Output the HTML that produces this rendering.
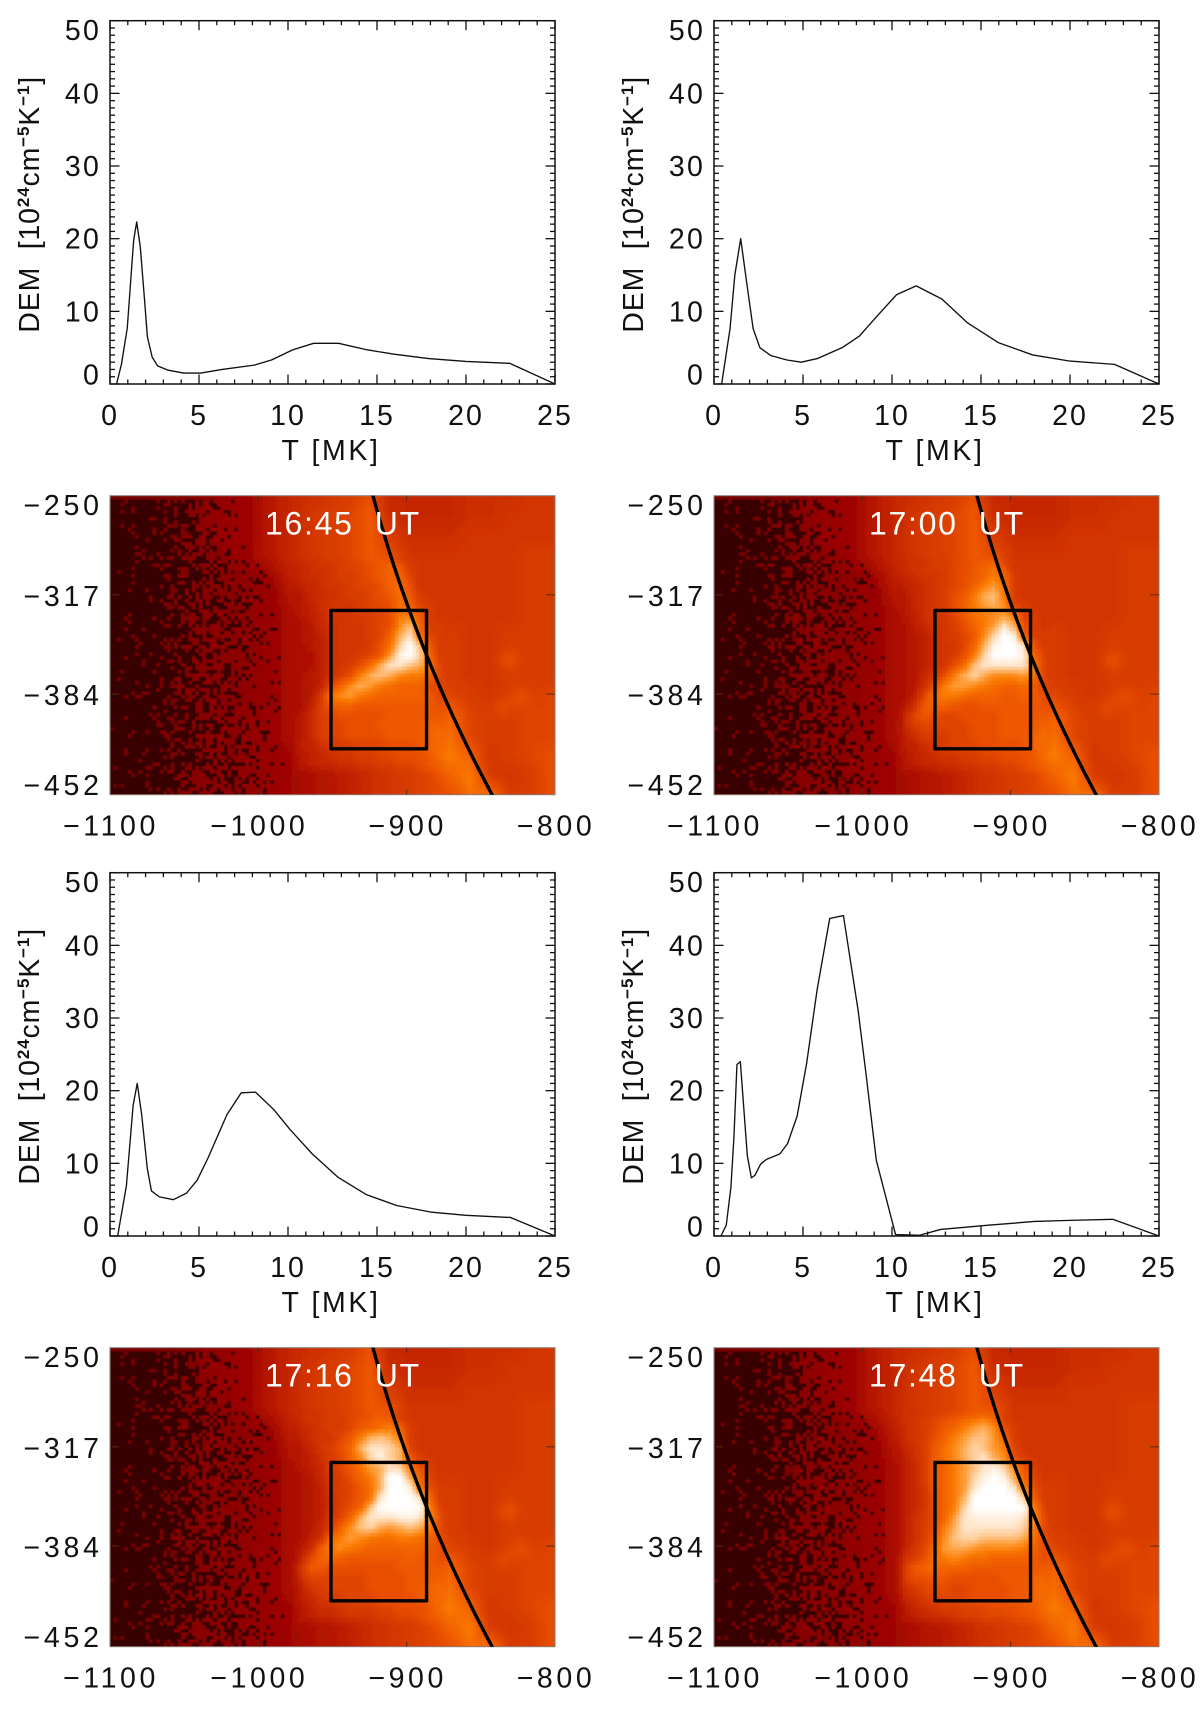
<!DOCTYPE html>
<html lang="en">
<head>
<meta charset="utf-8">
<title>DEM curves and flare images</title>
<style>
html,body{margin:0;padding:0;background:#fff;}
svg{display:block;}
text{font-family:"Liberation Sans",Arial,sans-serif;fill:#111;white-space:pre;}
</style>
</head>
<body>
<svg id="fig" xmlns="http://www.w3.org/2000/svg" width="1200" height="1713" viewBox="0 0 1200 1713">
<defs>
<filter id="soft" x="-2%" y="-2%" width="104%" height="104%"><feGaussianBlur stdDeviation="0.55"/></filter>
</defs>
</svg>
<script>
/* ---------- DEM curves: values ---------- */
const t1645 = [0.37,0.65,0.97,1.33,1.5,1.7,1.94,2.1,2.37,2.67,3.27,4.13,5.1,6.3,8.1,9.07,10.26,11.44,12.84,14.45,15.96,17.9,20,22.45,25];
const dem1645 = [0,2.8,7.7,19.8,22.3,18.9,11.6,6.5,3.7,2.5,1.9,1.5,1.5,2.0,2.6,3.3,4.7,5.6,5.6,4.7,4.1,3.5,3.1,2.85,0];
const t1700 = [0.43,0.9,1.17,1.5,1.85,2.2,2.58,3.2,4.1,4.9,5.8,7.2,8.17,9,10.26,11.36,12.8,14.25,15.97,17.9,20,22.5,25];
const dem1700 = [0,7.6,15,20,13.7,7.6,5,3.9,3.3,3,3.5,5,6.6,8.9,12.3,13.5,11.7,8.4,5.7,4,3.15,2.7,0];
const t1716 = [0.43,0.92,1.3,1.53,1.78,2.1,2.33,2.76,3.56,4.3,4.9,5.5,6.57,7.37,8.17,9.2,10.1,11.36,12.8,14.4,16.1,18,20,22.5,25];
const dem1716 = [0,6.9,18,21,16.7,9.2,6.2,5.4,5,5.9,7.7,10.7,16.7,19.7,19.8,17.4,14.7,11.3,8.1,5.7,4.2,3.3,2.85,2.55,0];
const t1748 = [0.39,0.69,0.95,1.12,1.29,1.48,1.87,2.1,2.3,2.62,2.95,3.7,4.13,4.67,5.2,5.8,6.5,7.27,8.1,8.54,9.12,10.2,11.55,12.73,15.5,18,20,22.4,25];
const dem1748 = [0,1.5,6.7,13.6,23.6,24,11.1,8,8.35,9.9,10.55,11.3,12.7,16.5,23.7,34,43.7,44.1,31,22.3,10.4,0.2,0.1,0.9,1.5,2,2.15,2.3,0];
const demXTicks = [0,5,10,15,20,25];
const demYTicks = [0,10,20,30,40,50];
const arcXTicks = [-1100,-1000,-900,-800];
const arcYTicks = [-250,-317,-384,-452];
const times = ["16:45","17:00","17:16","17:48"];

/* ---------- Image intensity: base-36 levels, 0 = darkest, s = white ---------- */
const backgroundLevels = [
"011235679b"+"cdegb"+"bb"+"bccc"+"dd",
"011235679b"+"defhc"+"bb"+"bccd"+"dd",
"011235679b"+"defhe"+"cc"+"cddd"+"dd",
"011234579b"+"defhg"+"dd"+"dddd"+"ee",
"011234457a"+"acefi"+"ed"+"dddd"+"ee",
"0112344569"+"9bdei"+"ed"+"dddd"+"ee",
"0112344568"+"89bdf"+"fd"+"dddd"+"ee",
"0112344568"+"89bce"+"ge"+"edde"+"ee",
"0112344568"+"89ace"+"ge"+"edde"+"ee",
"0112344568"+"89adf"+"gf"+"edde"+"ee",
"0112344568"+"89bdf"+"gg"+"fede"+"ef",
"0112344568"+"89bdf"+"gh"+"ifee"+"ff",
"0112344568"+"89acf"+"gh"+"jfee"+"ff",
"0112344567"+"89bce"+"fh"+"kide"+"fg",
"0112344567"+"89acd"+"ef"+"iked"+"eg",
"0112344567"+"89acd"+"ef"+"gjje"+"eg"
];
const brightSpotsX = [-831.7,-822.3,-835];
const brightSpotsY = [-360.8,-385.8,-392.5];
const brightSpotsLevel = [1.8,1.6,1.4];

const flare1645 = [
"b c d d e e f g h i g d d d d d d",
"a b c d d e f f g h i h e d d d d",
"a b c c d e e f g h i i f d d d d",
"9 a b c d d e f f g i j g d d d d",
"9 9 b c c d e e f g h j h e d d d",
"8 9 a c d d d e f f g j i f e d d",
"8 9 a b d d d e e f g k k h e d d",
"8 8 9 b c d d d e f g l o i e e d",
"8 8 9 a c d d d e f i n q j f e d",
"8 8 9 a c d d d e g j p s o h e d",
"8 8 8 a c d d e f h m r s p i e d",
"8 8 8 a c d e g j n q q o n j f e",
"8 8 9 a c e g k n o n l k k i f e",
"8 8 9 a f i l n m k j i i i g f e",
"8 8 9 d j l m k j i i i i i h f f",
"8 8 a e h i i h h h h h h h h g f",
"8 9 b e f g g g g g h h h h h h g",
"8 9 b e f f g g g h h h h h i i h",
"9 9 b e f f g g g g h h h h i j i",
"9 a a c d e e f f f g g g h i j j",
"9 9 a b c d d e e f f g g g h j k",
"8 9 a b b c c d d e e f f g h i k",
"8 9 9 a a b b c c d d e e f g h j"];
const flare1700 = [
"b c d d e e f g h i i e d d d d d",
"b c d d e e f g h i j g d d d d d",
"a b c d d e f g h i k i e d d d d",
"9 a b c d e f g i k m j e d d d d",
"9 9 b c d e g h k n o k e d d d d",
"8 9 b c d e g i k m n l f e d d d",
"8 9 a c d d f h j k l m k f e d d",
"8 8 a b d d e g i k m q n g e d d",
"8 8 9 a c d e f h l p s r i e e d",
"8 8 9 a c d d f i n r s s q g e d",
"8 8 9 a c d e g k p s s s r i f e",
"8 8 9 a c d g j o q q q q q k f e",
"8 8 9 b d g k n p n l l l m j f e",
"8 8 9 c g k m m l k j i i j h f e",
"8 8 a f j k k j i i i h h i h g f",
"8 9 c h i i h g g h h h h h h g f",
"8 b f h g f f g g g g h h h h h g",
"9 b e f f f f f g g g h h h h i h",
"9 a c e e e f f g g g h h h i j i",
"9 a a c d e f f f g g g g h i j j",
"9 9 a b c d d e e f f g g g h j k",
"8 9 a b b c c d d e e f f g h i k",
"8 9 9 a a b b c c d d e e f g h j"];
const flare1716 = [
"b c d e e f f g h i g d d d d d d",
"b c d d e e f g h i h e d d d d d",
"a b c d e e f h i j k i e d d d d",
"9 a c d d f h k n o n k e d d d d",
"9 9 b d e g i n q q p n f d d d d",
"8 9 a c e f i l p r p n h e d d d",
"8 9 a b e f h j m n q p k g e d d",
"8 8 9 b d e g i k n s s n i f d d",
"8 8 9 a d e f h j n s s r j g e d",
"8 8 9 a c e f h j q s s s q i e d",
"8 8 9 a c e g i o s s s s s k f e",
"8 8 9 a d f i n q q q r r q l g e",
"8 8 9 b e i l o p n m n o n k g e",
"8 8 a c i k m l k j j k k j i g f",
"8 9 b h k l k j i i i i i i h g f",
"8 a f i j i h h h h h h i h h g f",
"9 d h h g g g g g g g h h h h h g",
"9 c f f f f f f g g g g h h h i h",
"9 a d e f f f f g g g g h h i j i",
"9 a b d e e f f f g g g g h i j j",
"9 9 a c c d e e e f f g g g h j k",
"8 9 a b b c d d d e e f f g h i k",
"8 9 9 a a b b c c d d e e f g h j"];
const flare1748 = [
"b d d e f g g h i i g e d d d d d",
"b d d e f g h i j k i e d d d d d",
"b c d e f h i k m n l g e d d d d",
"a c d e g i k m o o m i e d d d d",
"9 b c e h j l n p o m k f d d d d",
"9 a c e h j l n p q n l g e d d d",
"8 a b e h i k m o q r p l h e d d",
"8 a b e h i k m p r s r n i f d d",
"8 a b d h i k m q s s s q k g e d",
"8 a b d g i k n s s s s s p h e d",
"8 a b d g i k p s s s s s s k f e",
"8 a c e g i m q r r r r r q l g e",
"8 a c e g k n q q q q q q p k g e",
"8 a c e h l o p p o o o o n j g f",
"8 a d f i m n n m l l l l k i g f",
"9 c e g j k l k j j i i i i h g f",
"9 e h i j i i i h h h h h h h h g",
"9 e g g h h g g g g g h h h i i h",
"9 c e f g g f f g g g g h h i j i",
"9 b c e f f f f g g g g h h i j j",
"9 9 b c d e e f f f g g g h h j k",
"8 9 a b c c d e e f f f g g h i k",
"8 9 9 a a b c c d d e e f f g h j"];

/* ---------- Layout ---------- */
const NS = "http://www.w3.org/2000/svg";
const fig = document.getElementById("fig");
const PLOT_W = 445, PLOT_H = 363.3, IMG_H = 299;
const COL_X = [110, 714];
const PLOT_TOP = [20.7, 872.7];
const IMG_TOP = [495.7, 1347.7];
const COLS = 125, ROWS = 84;

function mk(tag, attrs, parent) {
  const el = document.createElementNS(NS, tag);
  for (const k in attrs) el.setAttribute(k, attrs[k]);
  parent.appendChild(el);
  return el;
}
function labelStyle(el, size, spacing) {
  el.setAttribute("font-size", size);
  el.setAttribute("letter-spacing", spacing);
}

/* ---------- DEM plot ---------- */
function drawPlot(left, top, T, D, id) {
  const xT = v => left + v / 25 * PLOT_W;
  const yD = v => top + PLOT_H - v / 50 * PLOT_H;
  const g = mk("g", {}, fig);
  
  

  const frame = mk("rect", {x:left, y:top, width:PLOT_W, height:PLOT_H, fill:"none", stroke:"#111", "stroke-width":1.5}, g);
  
  

  for (let m = 0; m <= 25; m++) {
    const len = m % 5 === 0 ? 9.5 : 4.5;
    [[top + PLOT_H, -len], [top, len]].forEach(([y0, d]) => {
      const tick = mk("line", {x1:xT(m), x2:xT(m), y1:y0, y2:y0 + d, stroke:"#111", "stroke-width":1.3}, g);
      
      
    });
  }
  for (let m = 0; m <= 50; m++) {
    const len = m % 10 === 0 ? 9.5 : 5;
    [[left, len], [left + PLOT_W, -len]].forEach(([x0, d]) => {
      const tick = mk("line", {x1:x0, x2:x0 + d, y1:yD(m), y2:yD(m), stroke:"#111", "stroke-width":1.3}, g);
      
      
    });
  }
  demXTicks.forEach(v => {
    const t = mk("text", {x:xT(v), y:top + PLOT_H + 41, "text-anchor":"middle"}, g);
    labelStyle(t, 28.5, 2);
    t.textContent = v;
    
    
  });
  demYTicks.forEach(v => {
    let by = yD(v) + 10;
    if (v === 50) by = top + 19.5;
    if (v === 0) by = top + PLOT_H + 0.5;
    const t = mk("text", {x:left - 9, y:by, "text-anchor":"end"}, g);
    labelStyle(t, 28.5, 2.2);
    t.textContent = v;
    
    
  });
  const xt = mk("text", {x:left + 221, y:top + PLOT_H + 76, "text-anchor":"middle"}, g);
  labelStyle(xt, 28.5, 2.6);
  xt.textContent = "T [MK]";
  
  

  const yt = mk("text", {transform:"translate(" + (left - 71) + "," + (top + PLOT_H / 2 + 2) + ") rotate(-90)", "text-anchor":"middle"}, g);
  labelStyle(yt, 28.5, 0.85);
  
  
  const parts = [["DEM  [10",0],["24",1],["cm",0],["\u22125",1],["K",0],["\u22121",1],["]",0]];
  let prevSup = 0;
  parts.forEach(([s, sup]) => {
    const sp = document.createElementNS(NS, "tspan");
    sp.textContent = s;
    sp.setAttribute("dy", sup === prevSup ? 0 : (sup ? -10 : 10));
    if (sup) { sp.setAttribute("font-size", 17); sp.setAttribute("font-weight", "bold"); }
    yt.appendChild(sp);
    prevSup = sup;
  });

  const d = T.map((v, i) => (i ? "L" : "M") + xT(v).toFixed(2) + " " + yD(D[i]).toFixed(2)).join(" ");
  const line = mk("path", {d:d, fill:"none", stroke:"#111", "stroke-width":1.35, "stroke-linejoin":"round"}, g);
  
  
}

/* ---------- Image panel ---------- */
const stops = [[0,[56,0,0]],[4,[120,0,0]],[7,[160,4,0]],[8,[172,14,0]],[10,[190,32,0]],[12,[204,46,0]],[14,[216,60,0]],[16,[232,78,0]],[18,[242,98,0]],[20,[250,122,5]],[22,[255,154,48]],[24,[255,192,128]],[26,[255,228,200]],[28,[255,255,255]]];
function cmap(v) {
  v = Math.max(0, Math.min(28, v));
  for (let i = 1; i < stops.length; i++) {
    if (v <= stops[i][0]) {
      const a = stops[i-1], b = stops[i], f = (v - a[0]) / (b[0] - a[0]);
      return "rgb(" + a[1].map((c, k) => Math.round(c + (b[1][k] - c) * f)).join(",") + ")";
    }
  }
  return "rgb(255,255,255)";
}
function sample(levels, x, y, step, x0, y0) {
  const gx = (x - x0) / step, gy = (y - y0) / step;
  const r0 = Math.max(0, Math.min(levels.length - 1, Math.floor(gy)));
  const r1 = Math.min(levels.length - 1, r0 + 1);
  const fy = Math.max(0, Math.min(1, gy - r0));
  const at = (r, cx) => {
    const row = levels[r];
    return row[Math.max(0, Math.min(row.length - 1, cx))];
  };
  const c0 = Math.max(0, Math.floor(gx));
  const fx = Math.max(0, Math.min(1, gx - c0));
  const a = at(r0, c0) * (1 - fx) + at(r0, c0 + 1) * fx;
  const b = at(r1, c0) * (1 - fx) + at(r1, c0 + 1) * fx;
  return a * (1 - fy) + b * fy;
}
const bgParsed = backgroundLevels.map(r => r.split("").map(c => parseInt(c, 36)));
function speck(c, r) {
  const h = ((c * 73856093) ^ (r * 19349663) ^ (c * r * 83492791)) >>> 0;
  return ((h >>> 7) % 1000) / 1000;
}
function drawImage(left, top, flare, label, id) {
  const xA = a => left + (a + 1100) / 300 * PLOT_W;
  const yA = a => top + (-250 - a) / 202 * IMG_H;
  const fl = flare.map(r => r.split(" ").map(c => parseInt(c, 36)));
  const g = mk("g", {}, fig);
  
  

  const clipId = "clip" + id.replace(":", "");
  const clip = mk("clipPath", {id:clipId}, g);
  mk("rect", {x:left, y:top, width:PLOT_W, height:IMG_H}, clip);
  const outer = mk("g", {"clip-path":"url(#" + clipId + ")"}, g);
  const cells = mk("g", {filter:"url(#soft)", "shape-rendering":"crispEdges"}, outer);
  
  

  const cw = PLOT_W / COLS, ch = IMG_H / ROWS;
  for (let r = 0; r < ROWS; r++) {
    let runStart = 0, runColor = null;
    for (let c = 0; c <= COLS; c++) {
      let col = null;
      if (c < COLS) {
        const px = (c + 0.5) * cw, py = (r + 0.5) * ch;
        let v = sample(bgParsed, px, py, 20, 0, 0);
        const e = Math.min(px - 180, 340 - px, py - 60, 280 - py);
        if (e > 0) {
          const w = Math.min(1, e / 12);
          v = v * (1 - w) + sample(fl, px, py, 10, 180, 60) * w;
        }
        brightSpotsX.forEach((sx, i) => {
          const dx = left + px - xA(sx), dy = top + py - yA(brightSpotsY[i]);
          v += brightSpotsLevel[i] * Math.exp(-(dx * dx + dy * dy) / 120);
        });
        if (v < 7) {
          const p = v < 5 ? Math.pow(v / 5, 1.3) * 0.8 : 0.8 + (v - 5) * 0.09;
          col = speck(c, r) < p ? cmap(3.5 + v * 0.5) : cmap(0);
        } else {
          col = cmap(Math.round(v * 4) / 4);
        }
      }
      if (col !== runColor) {
        if (runColor !== null) {
          const cell = mk("rect", {x:(left + runStart * cw).toFixed(2), y:(top + r * ch).toFixed(2), width:((c - runStart) * cw + 0.6).toFixed(2), height:(ch + 0.6).toFixed(2), fill:runColor}, cells);
          
          
        }
        runStart = c;
        runColor = col;
      }
    }
  }

  const frame = mk("rect", {x:left, y:top, width:PLOT_W, height:IMG_H, fill:"none", stroke:"#8a7a72", "stroke-width":1}, g);
  
  
  [-1000, -900].forEach(a => {
    [[top, 5], [top + IMG_H, -5]].forEach(([y0, d]) => {
      const tick = mk("line", {x1:xA(a), x2:xA(a), y1:y0, y2:y0 + d, stroke:"#5a2a10", "stroke-width":1}, g);
      
      
    });
  });
  [-317, -384].forEach(a => {
    [[left, 9], [left + PLOT_W, -9]].forEach(([x0, d]) => {
      const tick = mk("line", {x1:x0, x2:x0 + d, y1:yA(a), y2:yA(a), stroke:"#5a2a10", "stroke-width":1}, g);
      
      
    });
  });
  arcXTicks.forEach(a => {
    const t = mk("text", {x:xA(a) + 1, y:top + IMG_H + 41, "text-anchor":"middle"}, g);
    labelStyle(t, 28.5, 3.6);
    t.textContent = "\u2212" + Math.abs(a);
    
    
  });
  arcYTicks.forEach(a => {
    let by = yA(a) + 11;
    if (a === -250) by = top + 19.5;
    if (a === -452) by = top + IMG_H + 0.5;
    const t = mk("text", {x:left - 7.2, y:by, "text-anchor":"end"}, g);
    labelStyle(t, 28.5, 3.8);
    t.textContent = "\u2212" + Math.abs(a);
    
    
  });

  /* solar limb: circle of radius 956 arcsec */
  let limb = "";
  for (let y = -246; y >= -458; y -= 4) {
    const x = -Math.sqrt(956 * 956 - y * y);
    limb += (limb ? "L" : "M") + xA(x).toFixed(2) + " " + yA(y).toFixed(2) + " ";
  }
  const limbEl = mk("path", {d:limb, fill:"none", stroke:"#000", "stroke-width":3.4, "clip-path":"url(#" + clipId + ")"}, g);
  
  

  const box = mk("rect", {x:xA(-951), y:yA(-327.5), width:xA(-886.6) - xA(-951), height:yA(-421) - yA(-327.5), fill:"none", stroke:"#000", "stroke-width":3.4, "stroke-linejoin":"round"}, g);
  
  

  const title = mk("text", {x:left + 155, y:top + 39}, g);
  labelStyle(title, 32, 1.7);
  title.setAttribute("style", "fill:#fff");
  title.textContent = label + "  UT";
  
  
}

drawPlot(COL_X[0], PLOT_TOP[0], t1645, dem1645, "16-45");
drawPlot(COL_X[1], PLOT_TOP[0], t1700, dem1700, "17-00");
drawPlot(COL_X[0], PLOT_TOP[1], t1716, dem1716, "17-16");
drawPlot(COL_X[1], PLOT_TOP[1], t1748, dem1748, "17-48");
drawImage(COL_X[0], IMG_TOP[0], flare1645, times[0], "16-45");
drawImage(COL_X[1], IMG_TOP[0], flare1700, times[1], "17-00");
drawImage(COL_X[0], IMG_TOP[1], flare1716, times[2], "17-16");
drawImage(COL_X[1], IMG_TOP[1], flare1748, times[3], "17-48");
</script>
</body>
</html>
